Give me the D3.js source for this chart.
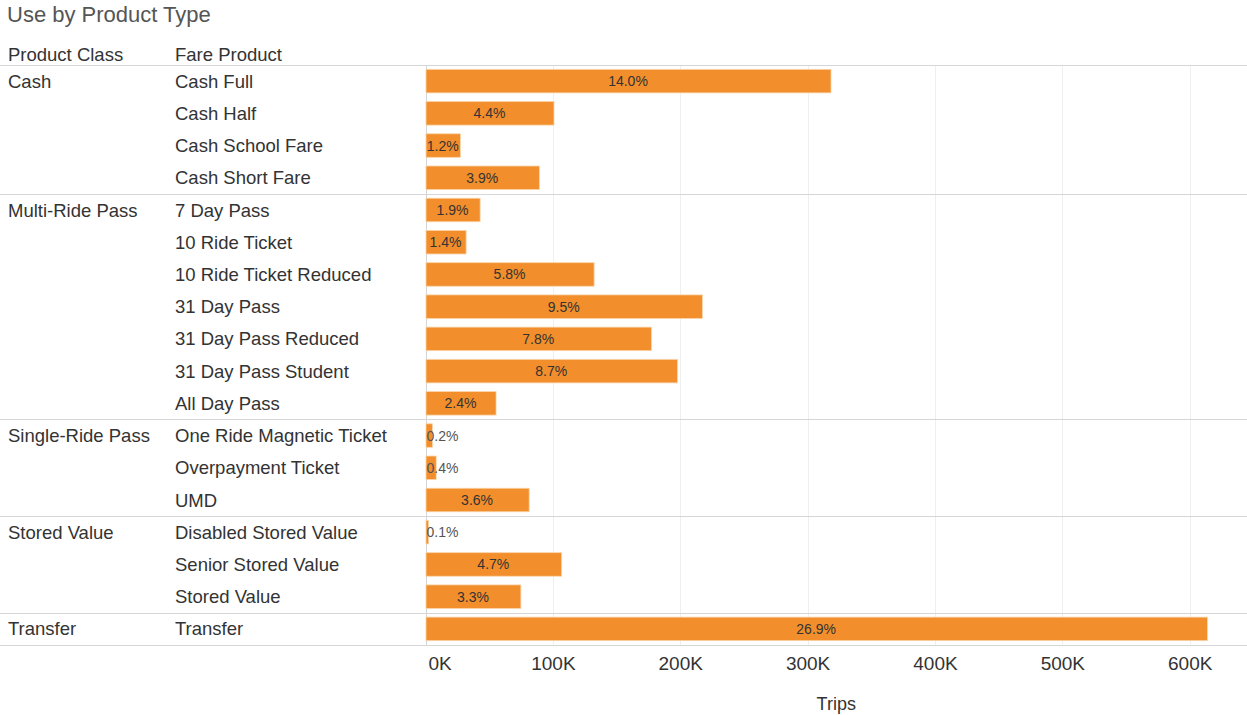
<!DOCTYPE html>
<html>
<head>
<meta charset="utf-8">
<script src="https://cdn.jsdelivr.net/npm/d3@7"></script>
<style>
  html, body { margin: 0; padding: 0; background: #fff; }
  svg { display: block; font-family: "Liberation Sans", Arial, sans-serif; }
</style>
</head>
<body>
<svg id="chart" width="1247" height="715"></svg>
<script>
// ---- data ----
const productClasses = ["Cash", "Multi-Ride Pass", "Single-Ride Pass", "Stored Value", "Transfer"];
const classOfProduct = ["Cash", "Cash", "Cash", "Cash",
  "Multi-Ride Pass", "Multi-Ride Pass", "Multi-Ride Pass", "Multi-Ride Pass", "Multi-Ride Pass", "Multi-Ride Pass", "Multi-Ride Pass",
  "Single-Ride Pass", "Single-Ride Pass", "Single-Ride Pass",
  "Stored Value", "Stored Value", "Stored Value",
  "Transfer"];
const fareProducts = ["Cash Full", "Cash Half", "Cash School Fare", "Cash Short Fare",
  "7 Day Pass", "10 Ride Ticket", "10 Ride Ticket Reduced", "31 Day Pass", "31 Day Pass Reduced", "31 Day Pass Student", "All Day Pass",
  "One Ride Magnetic Ticket", "Overpayment Ticket", "UMD",
  "Disabled Stored Value", "Senior Stored Value", "Stored Value",
  "Transfer"];
const trips = [318000, 100500, 27000, 89000,
  42500, 31500, 132000, 217000, 177000, 197500, 55000,
  5000, 8000, 81000,
  2000, 106500, 74500,
  613500];
const sharePct = [14.0, 4.4, 1.2, 3.9,
  1.9, 1.4, 5.8, 9.5, 7.8, 8.7, 2.4,
  0.2, 0.4, 3.6,
  0.1, 4.7, 3.3,
  26.9];
const xTicks = [0, 100000, 200000, 300000, 400000, 500000, 600000];

// ---- layout ----
const W = 1247;
const plotLeft = 425.5, plotRight = 1247;
const tableTop = 65, tableBottom = 645;
const svg = d3.select("#chart");

const x = d3.scaleLinear().domain([0, 645000]).range([plotLeft, plotRight]);
const rows = d3.scaleBand().domain(fareProducts).range([tableTop, tableBottom]).padding(0);
const bars = d3.scaleBand().domain(fareProducts).range([tableTop, tableBottom]).paddingInner(0.27).paddingOuter(0.135);

const data = fareProducts.map((p, i) => ({ product: p, cls: classOfProduct[i], value: trips[i], pct: sharePct[i] }));

// title
svg.append("text").attr("x", 7).attr("y", 21.5)
  .attr("font-size", 22).attr("fill", "#555").text("Use by Product Type");

// headers
svg.append("text").attr("x", 8).attr("y", 60.5).attr("font-size", 18.5).attr("fill", "#333").text("Product Class");
svg.append("text").attr("x", 175).attr("y", 60.5).attr("font-size", 18.5).attr("fill", "#333").text("Fare Product");

// gridlines
svg.append("g").selectAll("line").data(xTicks).join("line")
  .attr("x1", d => Math.round(x(d)) + 0.5).attr("x2", d => Math.round(x(d)) + 0.5)
  .attr("y1", tableTop).attr("y2", tableBottom)
  .attr("stroke", d => d === 0 ? "#d4d4d4" : "#efefef").attr("stroke-width", 1);

// group separators
const groupStarts = productClasses.map(c => data.find(d => d.cls === c).product);
const sepYs = groupStarts.map(p => rows(p)).concat([tableBottom]);
svg.append("g").selectAll("line").data(sepYs).join("line")
  .attr("x1", 0).attr("x2", W)
  .attr("y1", d => Math.round(d) + 0.5).attr("y2", d => Math.round(d) + 0.5)
  .attr("stroke", "#d6d6d6").attr("stroke-width", 1.2);

// row labels
svg.append("g").selectAll("text").data(data.filter((d, i) => i === 0 || data[i - 1].cls !== d.cls)).join("text")
  .attr("x", 8).attr("y", d => rows(d.product) + rows.bandwidth() / 2 + 6.5)
  .attr("font-size", 18.5).attr("fill", "#333").text(d => d.cls);
svg.append("g").selectAll("text").data(data).join("text")
  .attr("x", 175).attr("y", d => rows(d.product) + rows.bandwidth() / 2 + 6.5)
  .attr("font-size", 18.5).attr("fill", "#333").text(d => d.product);

// bars
svg.append("g").selectAll("rect").data(data).join("rect")
  .attr("x", x(0) + 0.5).attr("y", d => bars(d.product))
  .attr("width", d => Math.max(1, x(d.value) - x(0)))
  .attr("height", bars.bandwidth())
  .attr("fill", "#f28e2b").attr("stroke", "#f9d4a8").attr("stroke-width", 0.8);

// bar labels
const fmt = d3.format(".1f");
const lbl = svg.append("g").selectAll("text").data(data).join("text")
  .attr("y", d => bars(d.product) + bars.bandwidth() / 2 + 5)
  .attr("font-size", 14).attr("fill", "#333")
  .text(d => fmt(d.pct) + "%");
lbl.each(function(d) {
  const w = this.getComputedTextLength();
  const barW = x(d.value) - x(0);
  const sel = d3.select(this);
  if (w + 2 < barW) {
    sel.attr("x", x(0) + barW / 2).attr("text-anchor", "middle");
  } else {
    sel.attr("x", x(0) + 1).attr("text-anchor", "start").attr("fill", barW > w ? "#333" : "#555");
  }
});

// x axis
const axis = d3.axisBottom(x).tickValues(xTicks).tickSize(0).tickPadding(0)
  .tickFormat(d => d3.format("d")(d / 1000) + "K");
const ax = svg.append("g").attr("transform", `translate(0, ${tableBottom})`).call(axis);
ax.select(".domain").remove();
ax.selectAll("text").attr("font-size", 19).attr("fill", "#333")
  .attr("font-family", "Liberation Sans, Arial, sans-serif")
  .attr("dy", null).attr("y", 25);
ax.selectAll(".tick").filter(d => d === 0).select("text")
  .attr("text-anchor", "start").attr("x", 2.5);

// x title
svg.append("text").attr("x", (plotLeft + plotRight) / 2).attr("y", 710)
  .attr("text-anchor", "middle").attr("font-size", 18).attr("fill", "#333").text("Trips");
</script>
</body>
</html>
